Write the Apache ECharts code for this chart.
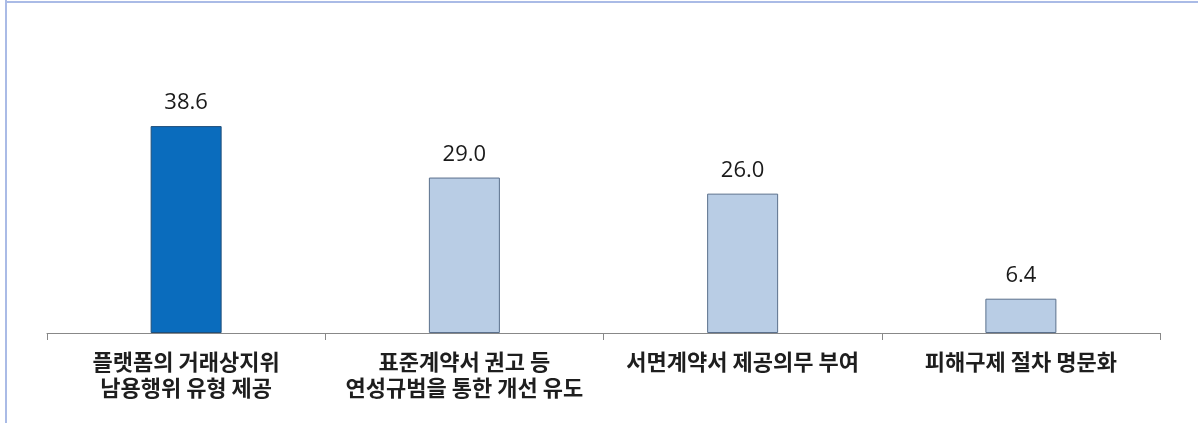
<!DOCTYPE html>
<html><head><meta charset="utf-8">
<script src="https://cdn.jsdelivr.net/npm/echarts@6/dist/echarts.min.js"></script>
<style>html,body{margin:0;padding:0;background:#fff}#c{width:1198px;height:423px}</style>
</head><body><div id="c"></div>
<script>
const categories = ['플랫폼의 거래상지위\n남용행위 유형 제공', '표준계약서 권고 등\n연성규범을 통한 개선 유도', '서면계약서 제공의무 부여', '피해구제 절차 명문화'];
const values = [38.6, 29.0, 26.0, 6.4];
const highlightIndex = 0;

const chart = echarts.init(document.getElementById('c'), null, {renderer: 'canvas'});
chart.setOption({
  animation: false,
  backgroundColor: '#fff',
  grid: {left: 47, right: 38, top: 118.6, bottom: 90, containLabel: false},
  xAxis: {
    type: 'category', data: categories,
    axisLine: {show: true, lineStyle: {color: '#888', width: 1}},
    axisTick: {show: true, alignWithLabel: false, length: 7, lineStyle: {color: '#888'}},
    axisLabel: {
      interval: 0, margin: 16, color: '#1e1e1e',
      fontFamily: '"Noto Sans CJK KR", sans-serif', fontSize: 22, fontWeight: 'bold', lineHeight: 26,
      verticalAlign: 'top'
    }
  },
  yAxis: {type: 'value', min: 0, max: 40, show: false, splitLine: {show: false}},
  graphic: [
    {type: 'line', shape: {x1: 6, y1: 0, x2: 6, y2: 423}, style: {stroke: '#aabbe6', lineWidth: 2}},
    {type: 'line', shape: {x1: 6, y1: 2, x2: 1198, y2: 2}, style: {stroke: '#aabbe6', lineWidth: 2}}
  ],
  series: [{
    type: 'bar', barWidth: 71,
    data: values.map((v, i) => ({
      value: v,
      itemStyle: i === highlightIndex
        ? {color: '#0a6cbd', borderColor: '#1f4e79', borderWidth: 1}
        : {color: '#b9cde5', borderColor: '#5b708c', borderWidth: 1}
    })),
    label: {
      show: true, position: 'top', distance: 12, color: '#1a1a1a',
      fontFamily: '"Open Sans", "Noto Sans", sans-serif', fontSize: 22,
      formatter: p => p.value.toFixed(1)
    }
  }]
});
</script></body></html>
